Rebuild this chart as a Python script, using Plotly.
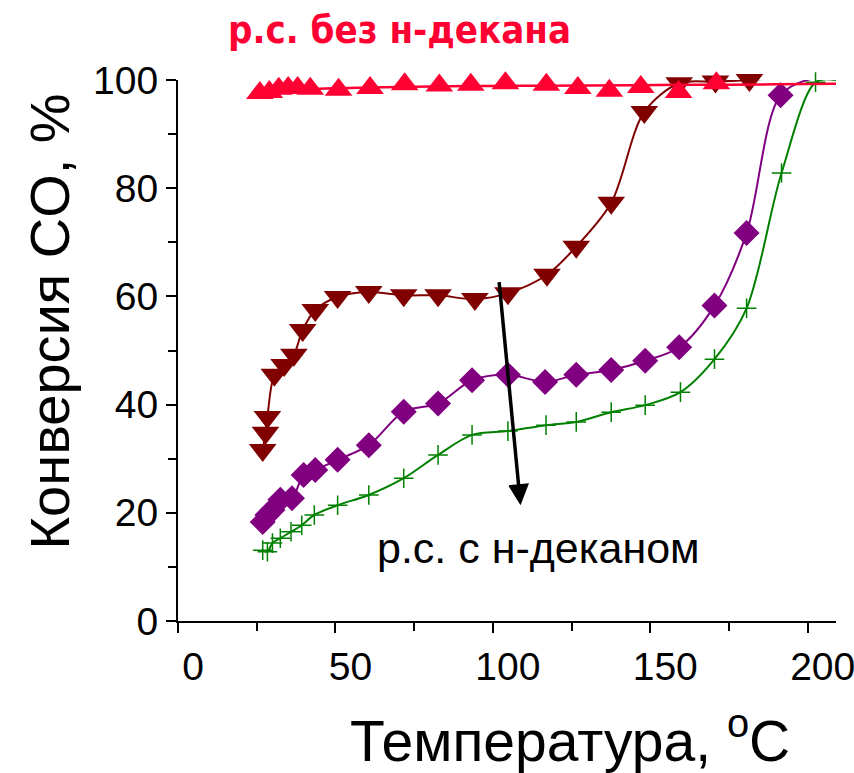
import plotly.graph_objects as go

# ---- data ----
# p.c. без н-декана (red, triangle-up)
red_x = [26, 29, 32, 35, 38, 42, 51, 61, 72, 83, 93, 104, 117, 127, 137, 147, 159, 171, 181, 191, 202]
red_y = [97.6, 97.8, 98.4, 98.5, 98.5, 98.4, 98.2, 98.5, 99.2, 99.0, 99.1, 99.4, 99.1, 98.5, 98.0, 98.7, 97.8, 99.4, 100.3, 100.4, 100.4]
red_fit_x = [26, 35, 45, 60, 80, 100, 130, 160, 190, 209]
red_fit_y = [97.6, 98.1, 98.4, 98.6, 98.8, 98.9, 99.0, 99.1, 99.2, 99.3]

# dark red, triangle-down
dred_x = [26.9, 27.8, 28.4, 30.6, 33.7, 36.8, 39.6, 43.6, 50.7, 60.6, 71.7, 82.6, 94.3, 104.8, 117.2, 126.5, 137.6, 148.1, 159.2, 170.7, 181.5, 191.4, 202.2]
dred_y = [31.6, 34.8, 37.7, 45.5, 47.3, 49.2, 53.8, 57.5, 59.9, 60.8, 60.2, 60.2, 59.5, 60.6, 64.0, 69.2, 77.3, 94.1, 99.4, 99.7, 100.0, 100.4, 100.5]
dred_fit_x = dred_x + [209]
dred_fit_y = dred_y + [100.6]

# purple, diamond
pur_x = [26.9, 28.4, 30.0, 32.5, 36.2, 39.9, 43.6, 50.7, 60.6, 71.7, 82.6, 93.4, 104.8, 116.6, 126.5, 137.6, 148.4, 159.2, 170.4, 180.6, 191.4, 202.5]
pur_y = [18.3, 19.6, 20.5, 22.4, 22.7, 27.0, 27.9, 29.8, 32.5, 38.7, 40.2, 44.5, 45.5, 44.2, 45.5, 46.4, 48.1, 50.6, 58.3, 71.7, 97.2, 100.4]
pur_fit_x = pur_x + [209]
pur_fit_y = pur_y + [100.3]

# green, cross
grn_x = [26.9, 28.4, 30.0, 32.5, 35.9, 39.3, 43.3, 50.7, 60.6, 71.7, 82.6, 93.4, 104.8, 116.9, 126.5, 137.6, 148.4, 159.6, 170.4, 180.6, 191.7, 202.5]
grn_y = [13.1, 12.8, 14.4, 15.3, 16.5, 17.7, 19.6, 21.4, 23.3, 26.4, 30.7, 34.4, 35.1, 36.2, 36.8, 38.6, 39.9, 42.3, 48.4, 57.8, 82.8, 99.6]
grn_fit_x = grn_x + [209]
grn_fit_y = grn_y + [100.0]

# hidden series visible only at the top right
blue_x = [191.4, 202.3]
blue_y = [100.6, 100.6]

x_ticks = [0, 50, 100, 150, 200]
x_minor = [25, 75, 125, 175]
y_ticks = [0, 20, 40, 60, 80, 100]
y_minor = [10, 30, 50, 70, 90]

RED = "#FF0033"
DRED = "#800000"
PUR = "#800080"
GRN = "#008000"
FONT = "Liberation Sans, Arial, sans-serif"

fig = go.Figure()

fig.add_trace(go.Scatter(x=blue_x, y=blue_y, mode="markers", cliponaxis=False,
                         marker=dict(symbol="square", size=16, color="#FF00FF",
                                     line=dict(color="#0000FF", width=2))))

# dark red
fig.add_trace(go.Scatter(x=dred_fit_x, y=dred_fit_y, mode="lines", cliponaxis=False,
                         line=dict(color=DRED, width=2, shape="spline", smoothing=0.9)))
fig.add_trace(go.Scatter(x=dred_x, y=dred_y, mode="markers", cliponaxis=False,
                         marker=dict(symbol="triangle-down", size=24, color=DRED)))
# purple
fig.add_trace(go.Scatter(x=pur_fit_x, y=pur_fit_y, mode="lines", cliponaxis=False,
                         line=dict(color=PUR, width=2, shape="spline", smoothing=0.9)))
fig.add_trace(go.Scatter(x=pur_x, y=pur_y, mode="markers", cliponaxis=False,
                         marker=dict(symbol="diamond", size=20, color=PUR)))
# green
fig.add_trace(go.Scatter(x=grn_fit_x, y=grn_fit_y, mode="lines", cliponaxis=False,
                         line=dict(color=GRN, width=2, shape="spline", smoothing=0.9)))
fig.add_trace(go.Scatter(x=grn_x, y=grn_y, mode="markers", cliponaxis=False,
                         marker=dict(symbol="cross-thin", size=14, color=GRN,
                                     line=dict(color=GRN, width=1.5))))
# red
fig.add_trace(go.Scatter(x=red_x, y=red_y, mode="markers", cliponaxis=False,
                         marker=dict(symbol="triangle-up", size=24, color=RED)))
fig.add_trace(go.Scatter(x=red_fit_x, y=red_fit_y, mode="lines", cliponaxis=False,
                         line=dict(color=RED, width=2.5, shape="spline", smoothing=0.9)))

axis_common = dict(
    showgrid=False, zeroline=False, showline=True, linecolor="black", linewidth=2,
    ticks="outside", ticklen=10, tickwidth=2, tickcolor="black",
    tickfont=dict(family=FONT, size=39, color="black"),
)

fig.update_xaxes(range=[0, 209], tickvals=x_ticks, ticktext=[str(v) for v in x_ticks],
                 minor=dict(tickvals=x_minor, ticks="outside", ticklen=8, tickwidth=2, tickcolor="black"),
                 ticklabelshift=15, ticklabeloverflow="allow", **axis_common)
fig.update_yaxes(range=[0, 100], tickvals=y_ticks, ticktext=[str(v) for v in y_ticks],
                 minor=dict(tickvals=y_minor, ticks="outside", ticklen=8, tickwidth=2, tickcolor="black"),
                 **axis_common)

fig.update_layout(
    width=854, height=773,
    margin=dict(l=178, r=0, t=80, b=152),
    paper_bgcolor="white", plot_bgcolor="white",
    showlegend=False,
    annotations=[
        dict(text="Температура, <sup>o</sup>C", xref="paper", yref="paper", x=0.596, y=-0.215,
             showarrow=False, font=dict(family=FONT, size=57, color="black"),
             xanchor="center", yanchor="middle"),
        dict(text="Конверсия CO, %", xref="paper", yref="paper", x=-0.195, y=0.553,
             textangle=-90, showarrow=False, font=dict(family=FONT, size=56, color="black"),
             xanchor="center", yanchor="middle"),
        dict(text="<b>р.с. без н-декана</b>", xref="paper", yref="paper", x=0.336, y=1.093,
             showarrow=False,
             font=dict(family="Liberation Sans Narrow, DejaVu Sans Condensed, Liberation Sans", size=38, color=RED),
             xanchor="center", yanchor="middle"),
        dict(text="р.с. с н-деканом", x=114.4, y=13.5, xref="x", yref="y",
             showarrow=False, font=dict(family=FONT, size=43, color="black"),
             xanchor="center", yanchor="middle"),
        dict(text=" ", x=108.8, y=21.4, ax=101.7, ay=64.5, xref="x", yref="y", axref="x", ayref="y",
             showarrow=True, arrowhead=2, arrowsize=1.2, arrowwidth=3.5, arrowcolor="black"),
    ],
)

fig.write_html("out.html", config={"displayModeBar": False},
               post_script="document.body.style.margin='0';document.body.style.overflow='hidden';")
